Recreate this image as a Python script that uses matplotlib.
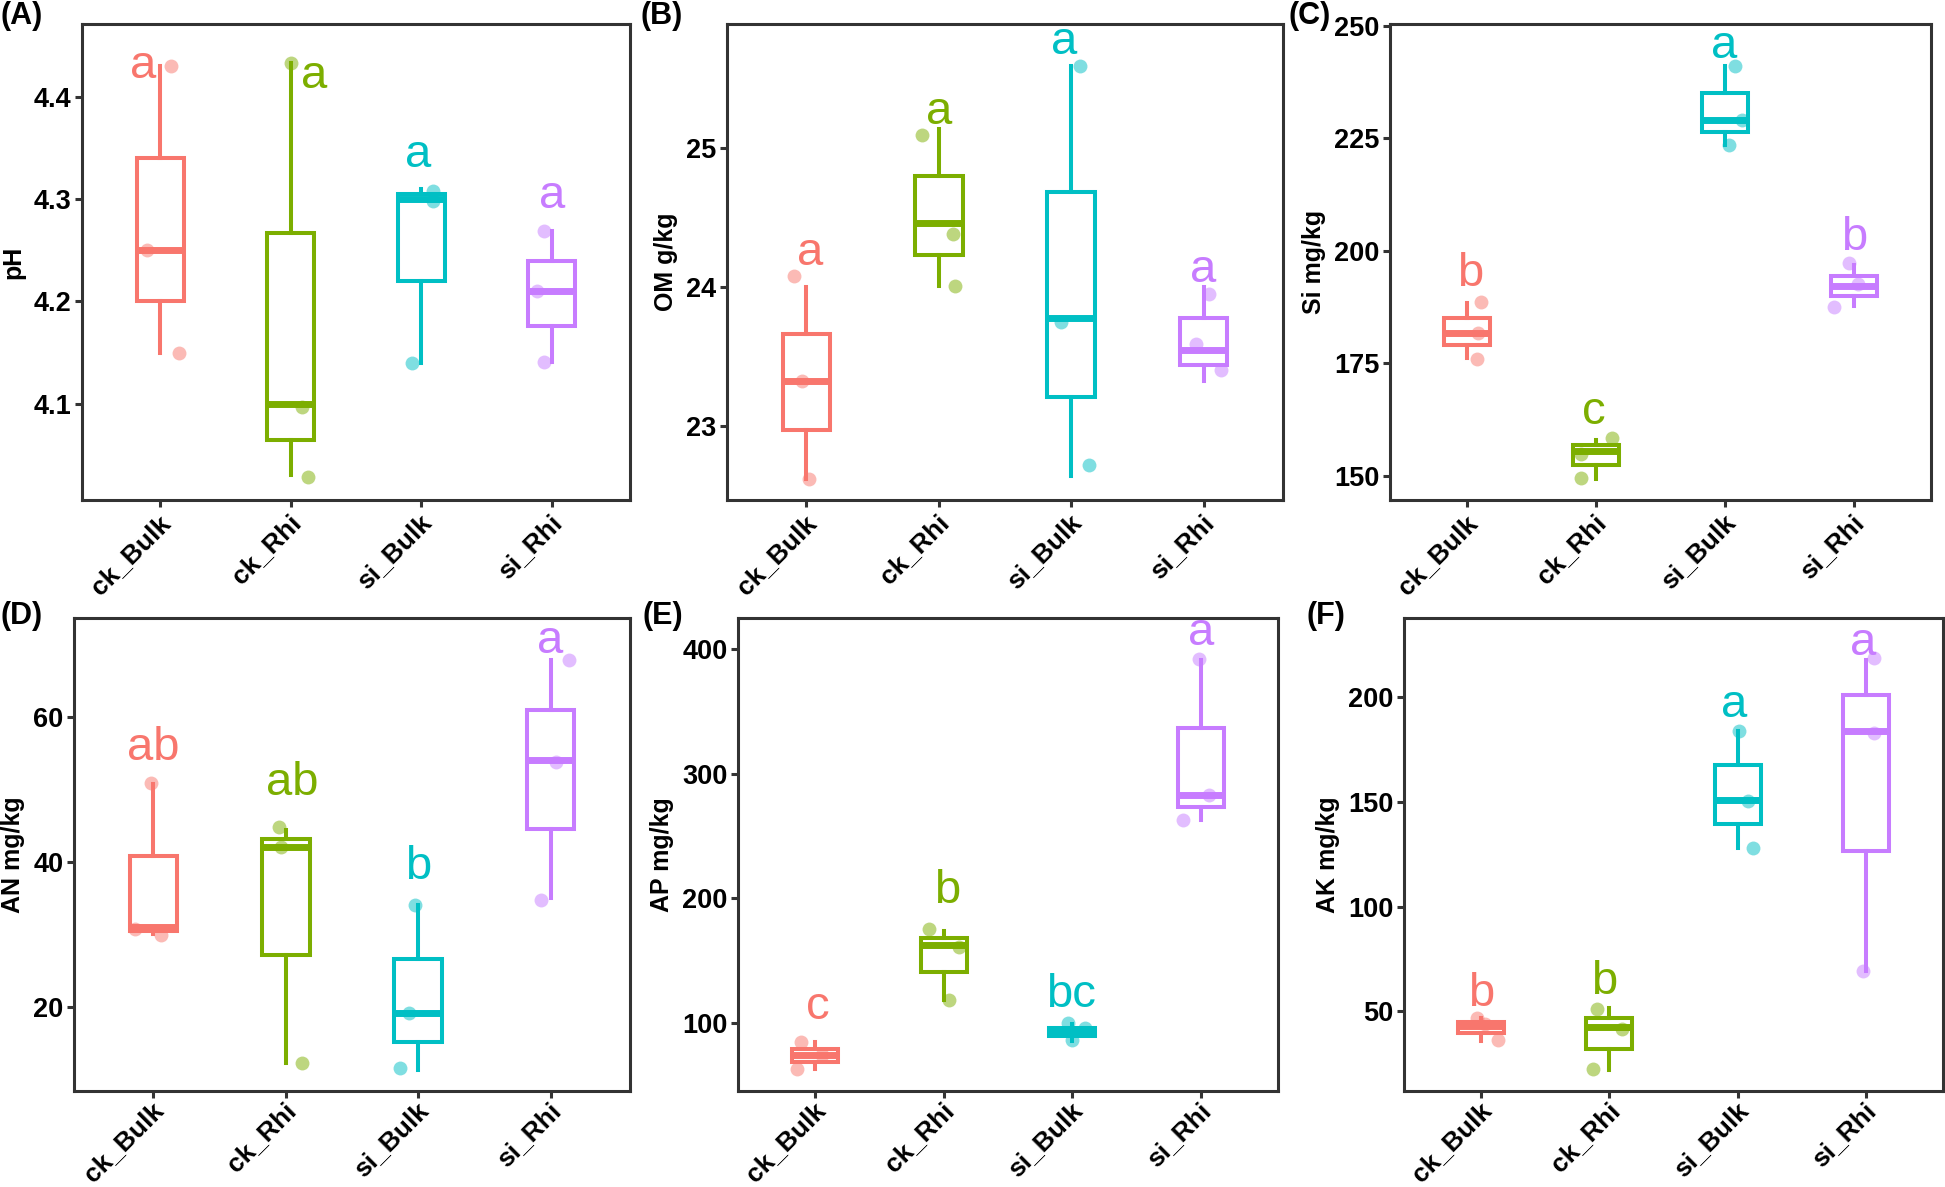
import matplotlib
matplotlib.use('Agg')
import matplotlib.pyplot as plt
import matplotlib.transforms as mtransforms

plt.rcParams['font.family'] = ['Liberation Sans', 'DejaVu Sans']

groups = ['ck_Bulk', 'ck_Rhi', 'si_Bulk', 'si_Rhi']
colors = ['#F8766D', '#7CAE00', '#00BFC4', '#C77CFF']

# each group: 3 replicates (min, median, max)
ph = [[4.15, 4.25, 4.43], [4.03, 4.10, 4.433], [4.14, 4.30, 4.31], [4.141, 4.21, 4.269]]
om = [[22.62, 23.32, 24.00], [24.005, 24.457, 25.13], [22.64, 23.778, 25.588], [23.323, 23.546, 24.0]]
si = [[176.2, 181.8, 188.3], [149.3, 155.6, 157.85], [223.5, 229.1, 241.1], [187.7, 192.1, 196.8]]
an = [[30.0, 31.0, 50.8], [12.26, 42.05, 44.4], [11.2, 19.2, 34.1], [35.0, 54.1, 67.9]]
ap = [[63.1, 74.3, 84.6], [118.6, 163.0, 173.8], [86.0, 93.0, 99.0], [263.0, 283.0, 390.9]]
ak = [[36.1, 43.0, 46.7], [21.9, 42.4, 51.8], [127.9, 151.1, 184.1], [69.4, 184.1, 217.9]]

# jitter of the plotted points (x in category units, y in data units)
ph_dx = [[0.14, -0.10, 0.08], [0.13, 0.085, 0.0], [-0.07, 0.09, 0.09], [-0.06, -0.115, -0.06]]
ph_dy = [[0, 0, 0], [-0.002, -0.003, 0], [0, -0.002, -0.002], [0, 0, 0]]
om_dx = [[0.016, -0.03, -0.094], [0.12, 0.11, -0.125], [0.135, -0.08, 0.07], [0.135, -0.06, 0.04]]
om_dy = [[0, 0, 0.08], [0, -0.08, -0.04], [0.076, -0.03, 0], [0.08, 0.04, -0.05]]
si_dx = [[0.078, 0.085, 0.11], [-0.12, -0.12, 0.12], [0.03, 0.135, 0.08], [-0.15, 0.03, -0.04]]
si_dy = [[-0.3, 0, 0.3], [0.2, -0.7, 0.45], [0, 0, 0], [-0.2, 0.5, 0.4]]
an_dx = [[0.056, -0.14, -0.02], [0.12, -0.04, -0.05], [-0.135, -0.07, -0.025], [-0.07, 0.04, 0.14]]
an_dy = [[-0.05, -0.3, 0.1], [0, 0, 0.5], [0.3, 0, 0], [-0.3, -0.2, 0]]
ap_dx = [[-0.14, 0.05, -0.11], [0.04, 0.12, -0.115], [0.0, 0.10, -0.03], [-0.14, 0.06, -0.015]]
ap_dy = [[0, 0, 0], [0, -1.8, 1.7], [0.2, 2.8, 0.8], [-0.2, 0, 1.5]]
ak_dx = [[0.135, 0.03, -0.03], [-0.125, 0.10, -0.10], [0.117, 0.078, 0.013], [-0.023, 0.06, 0.065]]
ak_dy = [[0.3, 1.0, 0.2], [0.5, -0.6, -0.5], [0, -0.6, 0], [0, -1.1, 0.9]]

# significance letters: text, baseline y, x offset
ph_let = ['a', 'a', 'a', 'a']
ph_let_y = [4.418, 4.408, 4.331, 4.2915]
ph_let_dx = [-0.13, 0.18, -0.025, 0.0]
om_let = ['a', 'a', 'a', 'a']
om_let_y = [24.159, 25.166, 25.670, 24.034]
om_let_dx = [0.03, 0.0, -0.05, 0.0]
si_let = ['b', 'c', 'a', 'b']
si_let_y = [192.15, 161.4, 242.75, 200.25]
si_let_dx = [0.02, -0.015, -0.005, 0.0]
an_let = ['ab', 'ab', 'b', 'a']
an_let_y = [54.13, 49.25, 37.7, 68.9]
an_let_dx = [0.0, 0.045, 0.0, -0.005]
ap_let = ['c', 'b', 'bc', 'a']
ap_let_y = [103.3, 196.1, 113.1, 403.0]
ap_let_dx = [0.02, 0.03, -0.01, 0.0]
ak_let = ['b', 'b', 'a', 'a']
ak_let_y = [52.7, 58.15, 190.8, 220.1]
ak_let_dx = [0.0, -0.04, -0.03, -0.026]


def draw_panel(ax, vals, dx, dy, lets, let_y, let_dx, ylabel, yticks, ylim, xpad=2.5):
    pos = [1, 2, 3, 4]
    bp = ax.boxplot(vals, positions=pos, widths=0.36, whis=(0, 100),
                    showfliers=False, showcaps=False, patch_artist=True)
    for i, c in enumerate(colors):
        bp['boxes'][i].set(facecolor='white', edgecolor=c, linewidth=2.9)
        bp['medians'][i].set(color=c, linewidth=5, solid_capstyle='butt')
        for w in bp['whiskers'][2 * i:2 * i + 2]:
            w.set(color=c, linewidth=2.9)
        xs = [pos[i] + d for d in dx[i]]
        ys = [v + d for v, d in zip(vals[i], dy[i])]
        ax.plot(xs, ys, 'o', color=c, alpha=0.5, ms=10, mec='none', zorder=5)
        ax.text(pos[i] + let_dx[i], let_y[i], lets[i], color=c, fontsize=34,
                ha='center', va='baseline',
                family=['Liberation Sans Narrow', 'Liberation Sans'])
    ax.set_xlim(0.4, 4.6)
    ax.set_ylim(*ylim)
    ax.set_yticks(yticks)
    ax.set_yticklabels([str(t) for t in yticks], fontsize=19.5, fontweight='bold')
    ax.set_xticks(pos)
    ax.set_xticklabels(groups, fontsize=19, fontweight='bold')
    ax.set_ylabel(ylabel, fontsize=18, fontweight='bold', labelpad=6)
    for s in ax.spines.values():
        s.set_color('#333333')
        s.set_linewidth(2.2)
    ax.tick_params(axis='both', color='#333333', length=5, width=2.2, labelcolor='black')
    ax.tick_params(axis='y', pad=2.5)
    ax.tick_params(axis='x', pad=xpad)
    off = mtransforms.ScaledTranslation(-0.02, 0, ax.figure.dpi_scale_trans)
    for lab in ax.get_xticklabels():
        lab.set_rotation(45)
        lab.set_ha('right')
        lab.set_va('top')
        lab.set_rotation_mode('anchor')
        lab.set_transform(lab.get_transform() + off)


W, H = 1945, 1187
fig = plt.figure(figsize=(W / 100, H / 100), dpi=100)


def add_axes(x0, x1, y0, y1):
    return fig.add_axes([x0 / W, 1 - y1 / H, (x1 - x0) / W, (y1 - y0) / H])


axA = add_axes(82, 630, 24, 500)
axB = add_axes(727, 1283, 24, 500)
axC = add_axes(1390, 1931, 24, 500)
axD = add_axes(74, 630, 618, 1091)
axE = add_axes(738, 1278, 618, 1091)
axF = add_axes(1404, 1943, 618, 1091)

draw_panel(axA, ph, ph_dx, ph_dy, ph_let, ph_let_y, ph_let_dx, 'pH',
           [4.1, 4.2, 4.3, 4.4], (4.006, 4.471))
draw_panel(axB, om, om_dx, om_dy, om_let, om_let_y, om_let_dx, 'OM g/kg',
           [23, 24, 25], (22.468, 25.888))
draw_panel(axC, si, si_dx, si_dy, si_let, si_let_y, si_let_dx, 'Si mg/kg',
           [150, 175, 200, 225, 250], (144.6, 250.4))
draw_panel(axD, an, an_dx, an_dy, an_let, an_let_y, an_let_dx, 'AN mg/kg',
           [20, 40, 60], (8.36, 73.74), xpad=0)
draw_panel(axE, ap, ap_dx, ap_dy, ap_let, ap_let_y, ap_let_dx, 'AP mg/kg',
           [100, 200, 300, 400], (45.5, 424.9), xpad=0)
draw_panel(axF, ak, ak_dx, ak_dy, ak_let, ak_let_y, ak_let_dx, 'AK mg/kg',
           [50, 100, 150, 200], (12.0, 237.9), xpad=0)

for lbl, x, y in [('(A)', 0, 1), ('(B)', 640, 1), ('(C)', 1289, 1),
                  ('(D)', 0, 601), ('(E)', 642, 601), ('(F)', 1307, 601)]:
    fig.text(x / W, 1 - y / H, lbl, fontsize=22, fontweight='bold',
             ha='left', va='top')

fig.savefig('out.png', dpi=100)
